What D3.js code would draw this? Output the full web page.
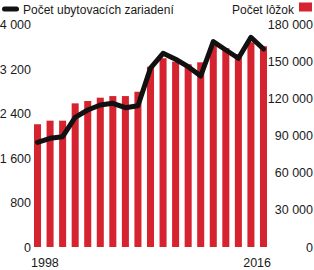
<!DOCTYPE html>
<html>
<head>
<meta charset="utf-8">
<script src="https://cdn.jsdelivr.net/npm/d3@7"></script>
<style>
body { margin: 0; background: #fff; }
text { font-family: "Liberation Sans Narrow", "Arial Narrow", "Liberation Sans", sans-serif; font-size: 12.5px; fill: #1a1a1a; }
text.legend { font-size: 12px; }
</style>
</head>
<body>
<svg width="314" height="270"></svg>
<script>
var years = [1998,1999,2000,2001,2002,2003,2004,2005,2006,2007,2008,2009,2010,2011,2012,2013,2014,2015,2016];
// Počet lôžok (bars, right axis)
var beds = [99300,102200,102200,116200,118100,120800,122100,122100,125600,145800,152700,150000,147800,149400,162900,160800,155900,165600,162400];
// Počet ubytovacích zariadení (line, left axis)
var facilities = [1882,1954,1983,2331,2463,2553,2583,2504,2540,3215,3482,3375,3242,3074,3691,3542,3393,3770,3560];
var leftTicks = [0,800,1600,2400,3200,4000];
var rightTicks = [0,30000,60000,90000,120000,150000,180000];

var svg = d3.select("svg");
var fmt = d3.formatLocale({decimal: ",", thousands: "\u00a0", grouping: [3], currency: ["", ""]}).format(",d");

var x = d3.scaleBand().domain(years).range([34, 267]).paddingInner(0.44).paddingOuter(0);
var yL = d3.scaleLinear().domain([0, 4000]).range([247, 24.5]);
var yR = d3.scaleLinear().domain([0, 180000]).range([247, 24.5]);

// bars
svg.append("g").selectAll("rect")
  .data(years)
  .enter()
  .append("rect")
  .attr("x", (d)=>x(d))
  .attr("y", (d,i)=>yR(beds[i]))
  .attr("width", x.bandwidth())
  .attr("height", (d,i)=>yR(0)-yR(beds[i]))
  .attr("fill", "#d5232f");

// line
var line = d3.line()
  .x((d,i)=>x(years[i]) + x.bandwidth()/2)
  .y((d)=>yL(d));

svg.append("path")
  .datum(facilities)
  .attr("d", line)
  .attr("fill", "none")
  .attr("stroke", "#111")
  .attr("stroke-width", 5)
  .attr("stroke-linejoin", "round")
  .attr("stroke-linecap", "round");

// left axis
var gl = svg.append("g")
  .attr("transform", "translate(31,0)")
  .call(d3.axisLeft(yL).tickValues(leftTicks).tickSize(0).tickPadding(0).tickFormat(fmt));
gl.select(".domain").remove();
gl.selectAll("text").attr("font-size", null).attr("font-family", null);

// right axis
var gr = svg.append("g")
  .attr("transform", "translate(313,0)")
  .call(d3.axisLeft(yR).tickValues(rightTicks).tickSize(0).tickPadding(0).tickFormat(fmt));
gr.select(".domain").remove();
gr.selectAll("text").attr("font-size", null).attr("font-family", null);

// year labels
svg.append("text")
  .attr("x", x(years[0]) - 3)
  .attr("y", 267)
  .text(years[0]);
svg.append("text")
  .attr("x", x(years[years.length-1]) + x.bandwidth() + 4)
  .attr("y", 267)
  .attr("text-anchor", "end")
  .text(years[years.length-1]);

// legend
svg.append("rect")
  .attr("x", 2).attr("y", 6.5)
  .attr("width", 17).attr("height", 5)
  .attr("rx", 2.5)
  .attr("fill", "#111");
svg.append("text")
  .attr("class", "legend")
  .attr("x", 23).attr("y", 14)
  .text("Počet ubytovacích zariadení");
svg.append("rect")
  .attr("x", 299).attr("y", 2.5)
  .attr("width", 13).attr("height", 9)
  .attr("fill", "#d5232f");
svg.append("text")
  .attr("class", "legend")
  .attr("x", 294).attr("y", 14)
  .attr("text-anchor", "end")
  .text("Počet lôžok");
</script>
</body>
</html>
